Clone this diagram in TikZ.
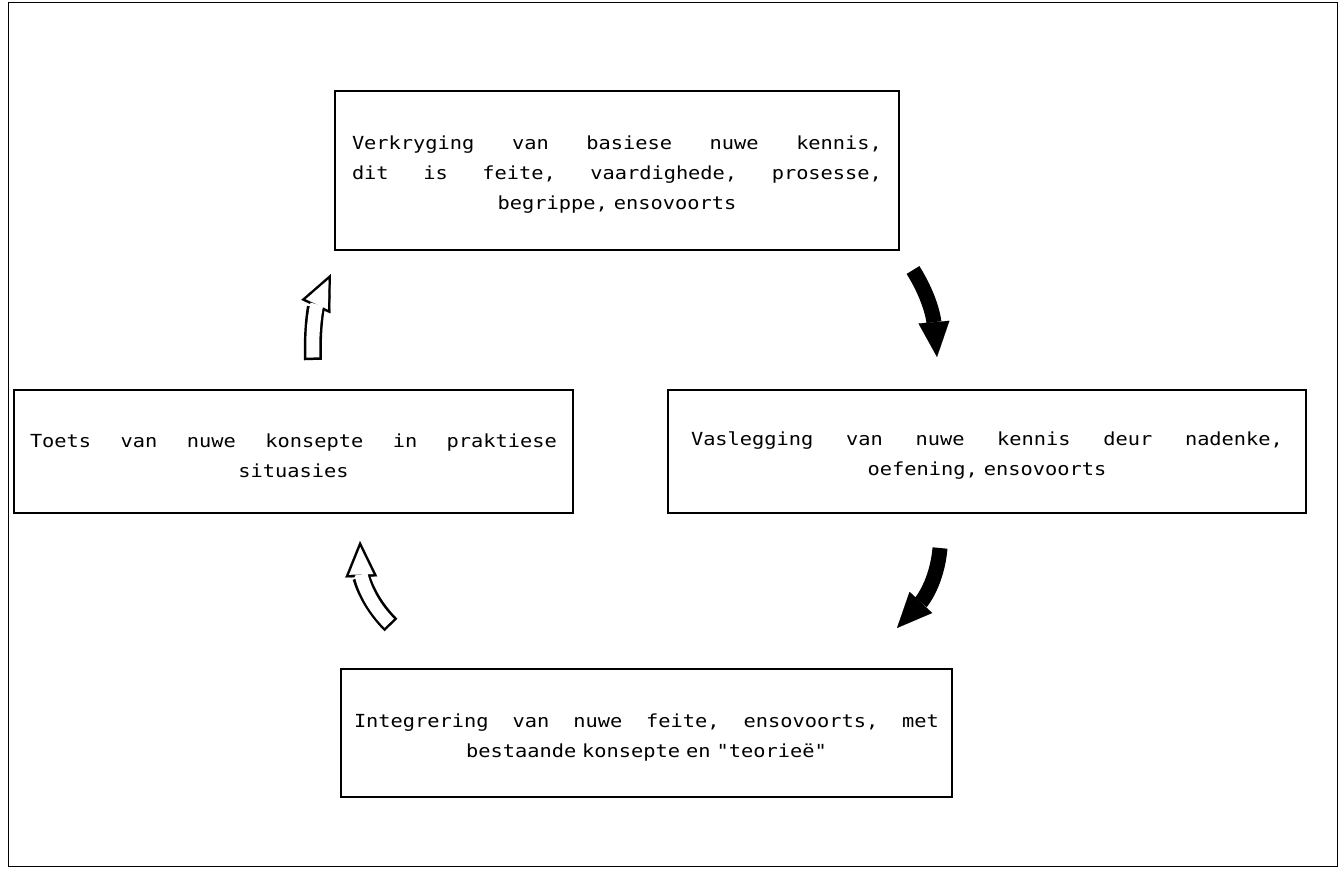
\documentclass[tikz,border=0pt]{standalone}
\usepackage{fontspec}
\newfontfamily\stagefont[FakeStretch=1.13]{DejaVu Sans Mono}
\usetikzlibrary{arrows.meta}

\begin{document}
\begin{tikzpicture}[x=0.75pt,y=-0.75pt,
  every node/.append style={font=\stagefont\fontsize{13.5}{22.5}\selectfont},
  solid arrow/.style={line width=11.25pt,-{Triangle[length=26.25pt,width=23.25pt,line width=0.1pt]}},
  hollow rim/.style={line width=13.5pt,-{Triangle[length=27pt,width=24pt,line width=0.1pt]}},
  hollow core/.style={white,line width=9.75pt,shorten <=1.875pt,shorten >=4.6pt,
    -{Triangle[length=20.5pt,width=18.2pt,line width=0.1pt]}}]
  \tikzstyle{stage} = [draw,line width=1.4pt,align=center,inner ysep=0pt,
    execute at begin node=\rule{0pt}{17pt}]
  \useasboundingbox (0,0) rectangle (1342,871);
  \draw[line width=0.6pt] (8,2) rectangle (1337,866);
  \node (verkryging) [stage,text width=397.5pt,inner xsep=12.75pt,minimum height=119.25pt] at (617,170.5)
    {Verkryging \hfill van \hfill basiese \hfill nuwe \hfill kennis,\\
     dit \hfill is \hfill feite, \hfill vaardighede, \hfill prosesse,\\
     begrippe, ensovoorts};
  \node (toets) [stage,text width=395.25pt,inner xsep=12pt,minimum height=92.25pt] at (293.5,451.5)
    {Toets \hfill van \hfill nuwe \hfill konsepte \hfill in \hfill praktiese\\
     situasies};
  \node (vaslegging) [stage,text width=444pt,inner xsep=17.25pt,minimum height=92.25pt] at (987,451.5)
    {Vaslegging \hfill van \hfill nuwe \hfill kennis \hfill deur \hfill nadenke,\\
     oefening, ensovoorts};
  \node (integrering) [stage,text width=438.75pt,inner xsep=9.75pt,minimum height=96pt] at (646.5,733)
    {Integrering \hfill van \hfill nuwe \hfill feite, \hfill ensovoorts, \hfill met\\
     bestaande konsepte en "teorieë"};
  % block arrows round the cycle
  \coordinate (a1 tail) at (913,270);
  \coordinate (a1 tip) at (937,357);
  \coordinate (a2 tail) at (940,548);
  \coordinate (a2 tip) at (897,628);
  \coordinate (a3 tail) at (391,625);
  \coordinate (a3 tip) at (360,541);
  \coordinate (a4 tail) at (313,360);
  \coordinate (a4 tip) at (331,274);
  \draw[solid arrow] (a1 tail) to[out=-58,in=95] (a1 tip);
  \draw[solid arrow] (a2 tail) to[out=-95,in=47] (a2 tip);
  \draw[hollow rim] (a3 tail) to[out=135,in=-88] (a3 tip);
  \draw[hollow core] (a3 tail) to[out=135,in=-88] (a3 tip);
  \draw[hollow rim] (a4 tail) to[out=92,in=-115] (a4 tip);
  \draw[hollow core] (a4 tail) to[out=92,in=-115] (a4 tip);
\end{tikzpicture}
\end{document}
